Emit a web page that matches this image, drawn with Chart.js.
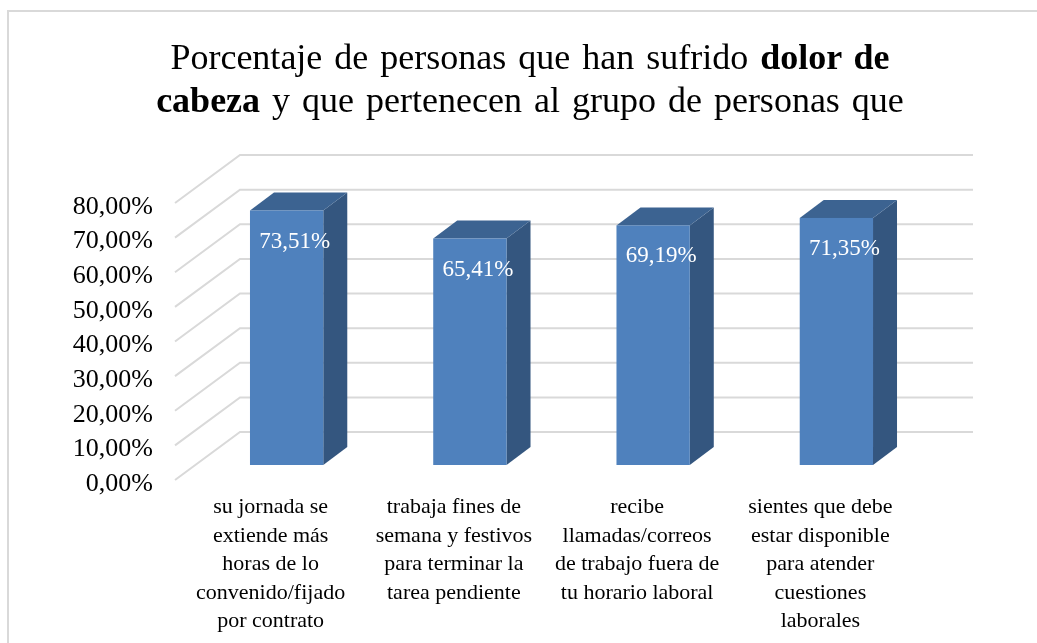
<!DOCTYPE html>
<html lang="es">
<head>
<meta charset="utf-8">
<title>Dolor de cabeza</title>
<script src="https://cdn.jsdelivr.net/npm/chart.js@4.4.1/dist/chart.umd.min.js"></script>
<style>
  html, body { margin: 0; padding: 0; background: #fff; overflow: hidden; }
  #wrap { position: relative; width: 1037px; height: 643px; overflow: hidden; }
  #frame { position: absolute; left: 7px; top: 10px; width: 1100px; height: 700px;
           border-left: 2px solid #d9d9d9; border-top: 2px solid #d9d9d9; }
  #title { position: absolute; left: 0; top: 36px; width: 1060px; text-align: center;
           font-family: 'Liberation Serif', 'Times New Roman', serif; font-size: 36px;
           line-height: 43px; word-spacing: 3px; color: #000; }
  #chart { position: absolute; left: 0; top: 0; }
</style>
</head>
<body>
<div id="wrap">
  <div id="frame"></div>
  <canvas id="chart" width="1037" height="643"></canvas>
  <div id="title">Porcentaje de personas que han sufrido <b>dolor de</b><br><b>cabeza</b> y que pertenecen al grupo de personas que</div>
</div>
<script>
const categories = [
    ['su jornada se', 'extiende más', 'horas de lo', 'convenido/fijado', 'por contrato'],
    ['trabaja fines de', 'semana y festivos', 'para terminar la', 'tarea pendiente'],
    ['recibe', 'llamadas/correos', 'de trabajo fuera de', 'tu horario laboral'],
    ['sientes que debe', 'estar disponible', 'para atender', 'cuestiones', 'laborales']
];
const values = [73.51, 65.41, 69.19, 71.35];
const yTicks = [0, 10, 20, 30, 40, 50, 60, 70, 80];

const SERIF = "'Liberation Serif', 'Times New Roman', serif";
const pct = v => v.toFixed(2).replace('.', ',') + '%';

// 3D offsets: back wall, bar front plane, bar depth
const WALL = { dx: 65, dy: -48 };
const BAR = { dx: 20, dy: -15 };
const DEPTH = { dx: 24, dy: -18 };

const colors = { front: '#4f81bd', side: '#34567f', top: '#3c6391', grid: '#d9d9d9' };

const box3d = {
    id: 'box3d',
    beforeDatasetsDraw(chart) {
        const { ctx, chartArea: a, scales: { y } } = chart;
        ctx.save();
        ctx.strokeStyle = colors.grid;
        ctx.lineWidth = 2;
        yTicks.forEach(v => {
            const py = y.getPixelForValue(v);
            ctx.beginPath();
            ctx.moveTo(a.left, py);
            ctx.lineTo(a.left + WALL.dx, py + WALL.dy);
            ctx.lineTo(a.right + WALL.dx, py + WALL.dy);
            ctx.stroke();
        });
        ctx.restore();
    },
    afterDatasetsDraw(chart) {
        const { ctx } = chart;
        const meta = chart.getDatasetMeta(0);
        ctx.save();
        meta.data.forEach((bar, i) => {
            const { x, y, base, width } = bar.getProps(['x', 'y', 'base', 'width'], true);
            const l = x - width / 2 + BAR.dx, r = l + width;
            const t = y + BAR.dy, b = base + BAR.dy;

            // side face
            ctx.fillStyle = colors.side;
            ctx.beginPath();
            ctx.moveTo(r, t);
            ctx.lineTo(r + DEPTH.dx, t + DEPTH.dy);
            ctx.lineTo(r + DEPTH.dx, b + DEPTH.dy);
            ctx.lineTo(r, b);
            ctx.closePath();
            ctx.fill();

            // top face
            ctx.fillStyle = colors.top;
            ctx.beginPath();
            ctx.moveTo(l, t);
            ctx.lineTo(l + DEPTH.dx, t + DEPTH.dy);
            ctx.lineTo(r + DEPTH.dx, t + DEPTH.dy);
            ctx.lineTo(r, t);
            ctx.closePath();
            ctx.fill();

            // front face
            ctx.fillStyle = colors.front;
            ctx.fillRect(l, t, width, b - t);

            // value label
            ctx.fillStyle = '#ffffff';
            ctx.font = '23px ' + SERIF;
            ctx.textAlign = 'center';
            ctx.textBaseline = 'middle';
            ctx.fillText(pct(values[i]), x + BAR.dx + 8, t + 31);
        });
        ctx.restore();
    }
};

new Chart(document.getElementById('chart'), {
    type: 'bar',
    data: {
        labels: categories,
        datasets: [{
            data: values,
            backgroundColor: 'rgba(0,0,0,0)',
            barPercentage: 0.4,
            categoryPercentage: 1
        }]
    },
    options: {
        responsive: false,
        animation: false,
        layout: { padding: { left: 0, right: 129, top: 203, bottom: 0 } },
        plugins: { legend: { display: false }, tooltip: { enabled: false }, title: { display: false } },
        scales: {
            x: {
                grid: { display: false, drawTicks: false },
                border: { display: false },
                ticks: {
                    color: '#000',
                    font: { family: SERIF, size: 22, lineHeight: 1.3 },
                    maxRotation: 0, minRotation: 0, autoSkip: false,
                    padding: 13, labelOffset: 4
                },
                afterFit: s => { s.height = 163; }
            },
            y: {
                min: 0, max: 80,
                grid: { display: false, drawTicks: false },
                border: { display: false },
                afterBuildTicks: s => { s.ticks = yTicks.map(v => ({ value: v })); },
                ticks: {
                    color: '#000',
                    font: { family: SERIF, size: 26 },
                    padding: 22,
                    labelOffset: 4,
                    callback: v => pct(v)
                },
                afterFit: s => { s.width = 175; }
            }
        }
    },
    plugins: [box3d]
});
</script>
</body>
</html>
